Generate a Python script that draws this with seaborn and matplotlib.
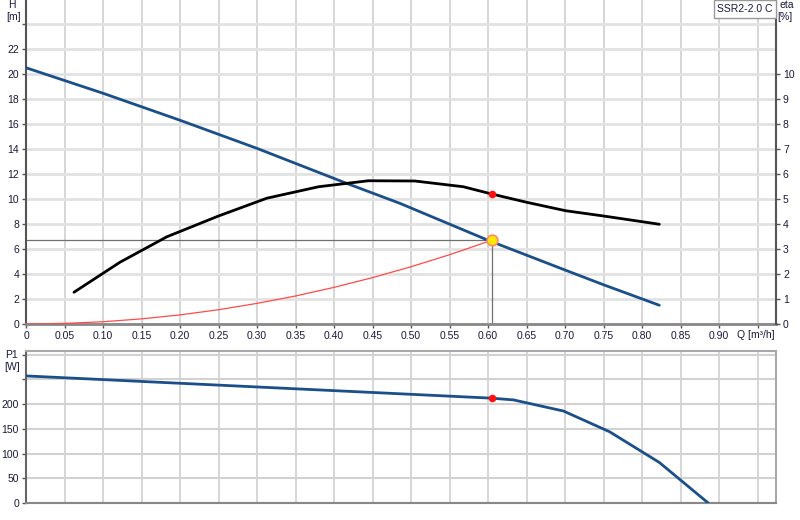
import numpy as np
import pandas as pd
import seaborn as sns
import matplotlib.pyplot as plt

# pump curve SSR2-2.0 C
q_head = [0.0, 0.10, 0.20, 0.30, 0.4165, 0.4857, 0.60, 0.70, 0.75, 0.8225]
head = [20.5, 18.46, 16.3, 14.05, 11.25, 9.65, 6.7, 4.32, 3.14, 1.5]

q_eta = [0.0623, 0.122, 0.183, 0.25, 0.3126, 0.38, 0.4446, 0.505, 0.568,
         0.6048, 0.65, 0.701, 0.75, 0.8225]
eta = [1.27, 2.47, 3.49, 4.32, 5.03, 5.49, 5.73, 5.72, 5.49,
       5.2, 4.87, 4.53, 4.32, 3.99]

q_sys = [0.0, 0.05, 0.10, 0.15, 0.20, 0.25, 0.30, 0.35, 0.40, 0.45, 0.50,
         0.55, 0.6048]
h_sys = [0.0, 0.05, 0.18, 0.41, 0.73, 1.14, 1.65, 2.24, 2.93, 3.71, 4.58,
         5.54, 6.70]

q_p1 = [0.0, 0.6048, 0.633, 0.698, 0.758, 0.8225, 0.886]
p1 = [257, 212, 208.5, 186, 144, 82, 0]

# duty point
q_op = 0.6048
h_op = 6.7
eta_op = 5.2
p1_op = 212

x_ticks = [round(0.05 * i, 2) for i in range(20)]
x_labels = ['0'] + ['%.2f' % v for v in x_ticks[1:-1]] + ['']

sns.set_style('white')
plt.rcParams['font.family'] = ['Liberation Sans', 'DejaVu Sans']
plt.rcParams['font.size'] = 7.5

txt = '#1a1a3a'
blue = '#1a4f8a'
vgrid = '#cfcfcf'
hgrid = '#e2e2e2'

fig = plt.figure(figsize=(8, 5.2), dpi=100)
ax = fig.add_axes([26 / 800, 1 - 324 / 520, 750 / 800, 324 / 520])
ax_p = fig.add_axes([26 / 800, 17 / 520, 750 / 800, 152.3 / 520])

# ---- top panel: H and eta
ax.set_xlim(0, 750 / 770)
ax.set_ylim(0, 25.92)
ax.set_xticks(x_ticks)
ax.set_xticklabels(x_labels, color=txt)
ax.set_yticks(range(0, 26, 2))
ax.set_yticklabels([str(v) for v in range(0, 24, 2)] + [''], color=txt)
ax.tick_params(axis='both', length=3, width=1, color='#555555', pad=2)
ax.tick_params(axis='both', which='both', bottom=True, left=True)
ax.grid(axis='x', color=vgrid, lw=1.2)
ax.grid(axis='y', color=hgrid, lw=2)
ax.set_axisbelow(True)
for s in ['top', 'right']:
    ax.spines[s].set_visible(False)
ax.spines['left'].set_color('#555555')
ax.spines['left'].set_linewidth(1.5)
ax.spines['bottom'].set_color('#888888')
ax.spines['bottom'].set_linewidth(2)

ax2 = ax.twinx()
ax2.set_ylim(0, 12.96)
ax2.set_yticks(range(0, 11))
ax2.set_yticklabels([str(v) for v in range(11)], color=txt)
ax2.tick_params(axis='y', length=3, width=1, color='#555555', pad=2, right=True)
for s in ['top', 'left', 'bottom']:
    ax2.spines[s].set_visible(False)
ax2.spines['right'].set_color('#555555')
ax2.spines['right'].set_linewidth(1.5)

# operating point guides
ax.plot([0, q_op], [h_op, h_op], color='#707070', lw=0.9, zorder=2)
ax.plot([q_op, q_op], [0, h_op], color='#707070', lw=0.9, zorder=2)

sns.lineplot(x=q_sys, y=h_sys, ax=ax, color='#ff4a4a', lw=0.9,
             sort=False, estimator=None, zorder=3)
sns.lineplot(x=q_head, y=head, ax=ax, color=blue, lw=2,
             sort=False, estimator=None, zorder=4)
sns.lineplot(x=q_eta, y=eta, ax=ax2, color='black', lw=2,
             sort=False, estimator=None, zorder=4)
sns.scatterplot(x=[q_op], y=[eta_op], ax=ax2, color='#ff1010', s=30,
                linewidth=0, zorder=5)
sns.scatterplot(x=[q_op], y=[h_op], ax=ax, color='#ffe800', s=60,
                edgecolor='#ff8a6a', linewidth=1.2, zorder=6)
ax.set_xlabel('')
ax.set_ylabel('')
ax2.set_ylabel('')

ax.text(0.923, -0.45, 'Q [m\u00b3/h]', ha='left', va='top', color=txt)
fig.text(12 / 800, 1 - 5 / 520, 'H', ha='center', va='center', color=txt)
fig.text(14 / 800, 1 - 17 / 520, '[m]', ha='center', va='center', color=txt)
fig.text(787 / 800, 1 - 5 / 520, 'eta', ha='center', va='center', color=txt)
fig.text(785 / 800, 1 - 17 / 520, '[%]', ha='center', va='center', color=txt)
fig.text(745 / 800, 1 - 9 / 520, 'SSR2-2.0 C', ha='center', va='center',
         color=txt, fontsize=7.5,
         bbox=dict(boxstyle='square,pad=0.35', fc='white', ec='#999999', lw=1))

# ---- bottom panel: P1
ax_p.set_xlim(0, 750 / 770)
ax_p.set_ylim(0, 308)
ax_p.set_xticks(x_ticks)
ax_p.set_xticklabels([])
ax_p.set_yticks(range(0, 301, 50))
ax_p.set_yticklabels(['0', '50', '100', '150', '200', '', ''], color=txt)
ax_p.tick_params(axis='x', length=0)
ax_p.tick_params(axis='y', length=3, width=1, color='#555555', pad=2, left=True)
ax_p.grid(axis='x', color=vgrid, lw=1.2)
ax_p.grid(axis='y', color='#d2d2d2', lw=1.5)
ax_p.set_axisbelow(True)
for s in ax_p.spines.values():
    s.set_color('#a8a8a8')
    s.set_linewidth(1.5)
ax_p.spines['left'].set_color('#666666')
ax_p.spines['bottom'].set_color('#888888')

sns.lineplot(x=q_p1, y=p1, ax=ax_p, color=blue, lw=2,
             sort=False, estimator=None, zorder=4)
sns.scatterplot(x=[q_op], y=[p1_op], ax=ax_p, color='#ff1010', s=30,
                linewidth=0, zorder=5)
ax_p.set_xlabel('')
ax_p.set_ylabel('')

fig.text(12 / 800, 1 - 355 / 520, 'P1', ha='center', va='center', color=txt)
fig.text(12 / 800, 1 - 367 / 520, '[W]', ha='center', va='center', color=txt)

fig.savefig('out.png', dpi=100)
